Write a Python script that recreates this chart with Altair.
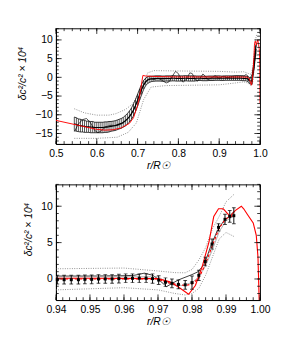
import altair as alt
import pandas as pd
import numpy as np

# ---------------- data: top panel ----------------
band_x = [round(0.545 + 0.005 * i, 3) for i in range(90)]
band_c = [-12.4, -12.6, -12.8, -12.9, -13.0, -13.1, -13.2, -13.2, -13.3, -13.3,
          -13.4, -13.4, -13.4, -13.4, -13.4, -13.3, -13.3, -13.2, -13.1, -13.0,
          -12.9, -12.7, -12.5, -12.3, -12.0, -11.6, -11.1, -10.5, -9.7, -8.7,
          -7.5, -6.1, -4.6, -3.2, -2.0, -1.2, -0.7, -0.5, -0.4, -0.35,
          -0.3, -0.3, -0.3, -0.35, -0.35, -0.3, -0.3, -0.3, -0.25, -0.25,
          -0.3, -0.3, -0.3, -0.3, -0.25, -0.25, -0.3, -0.3, -0.3, -0.3,
          -0.25, -0.25, -0.25, -0.3, -0.3, -0.3, -0.25, -0.25, -0.25, -0.2,
          -0.2, -0.2, -0.25, -0.25, -0.2, -0.2, -0.2, -0.2, -0.2, -0.2,
          -0.2, -0.2, -0.25, -0.3, -0.3, -0.4, -0.9, -1.0, 3.0, 7.6]
band_e = [1.8, 1.8, 1.7, 1.7, 1.6, 1.6, 1.5, 1.5, 1.5, 1.5,
          1.4, 1.4, 1.4, 1.4, 1.4, 1.4, 1.4, 1.4, 1.3, 1.3,
          1.3, 1.3, 1.3, 1.3, 1.3, 1.4, 1.4, 1.5, 1.5, 1.6,
          1.6, 1.6, 1.5, 1.4, 1.2, 1.0, 0.9, 0.8, 0.7, 0.7,
          0.7, 0.7, 0.7, 0.7, 0.7, 0.7, 0.7, 0.7, 0.7, 0.7,
          0.7, 0.7, 0.7, 0.7, 0.7, 0.7, 0.7, 0.7, 0.7, 0.7,
          0.6, 0.6, 0.6, 0.6, 0.6, 0.6, 0.6, 0.6, 0.6, 0.6,
          0.6, 0.6, 0.6, 0.6, 0.6, 0.6, 0.6, 0.6, 0.6, 0.6,
          0.6, 0.6, 0.6, 0.6, 0.6, 0.7, 0.8, 0.9, 1.0, 1.0]

# wiggly inversion curve (black solid)
wig_x = [0.545, 0.555, 0.565, 0.575, 0.585, 0.595, 0.603, 0.612, 0.622, 0.635,
         0.65, 0.665, 0.68, 0.69, 0.70, 0.71, 0.72, 0.73, 0.74, 0.75,
         0.76, 0.77, 0.777, 0.785, 0.793, 0.80, 0.806, 0.812, 0.82, 0.828,
         0.834, 0.84, 0.846, 0.853, 0.86, 0.866, 0.872, 0.88, 0.89, 0.90,
         0.91, 0.92, 0.93, 0.94, 0.95, 0.96, 0.963, 0.966, 0.9685, 0.970,
         0.9725, 0.976, 0.980, 0.9818, 0.9837, 0.9855, 0.9874, 0.9892, 0.9909, 0.9922]
wig_y = [-14.5, -12.5, -11.3, -11.0, -12.2, -14.2, -14.8, -14.2, -13.2, -12.8,
         -12.9, -12.2, -10.6, -8.8, -6.2, -3.2, -1.0, -0.2, -0.6, -0.2,
         -0.8, -1.5, -1.2, 0.3, 1.6, 1.0, -0.6, -1.3, -0.4, 1.2,
         1.0, -0.4, -1.1, -0.3, 0.9, 0.3, -0.6, -0.2, 0.4, -0.3,
         0.3, -0.1, 0.2, 0.4, 0.4, 0.45, 0.5, 0.8, 0.5, 0.0,
         -1.05, -0.13, 0.6, 1.0, 2.1, 4.5, 6.6, 7.9, 8.6, 9.2]

# solar model difference (red solid)
red_x = [0.5, 0.55, 0.6, 0.62, 0.64, 0.66, 0.68, 0.69, 0.70, 0.705,
         0.71, 0.713, 0.72, 0.75, 0.8, 0.9, 0.95, 0.97, 0.9735, 0.976,
         0.979, 0.981, 0.983, 0.985, 0.9864, 0.9878, 0.9892, 0.9912, 0.9927, 0.9945,
         0.9952, 0.9964, 0.998, 0.9989, 0.9994, 1.0]
red_y = [-11.5, -12.7, -13.9, -14.1, -14.0, -13.5, -12.3, -10.8, -7.5, -5.0,
         -1.5, 0.5, 0.35, 0.2, 0.1, 0.1, 0.1, 0.05, -0.4, -1.1,
         -2.1, -0.9, 1.7, 5.1, 8.6, 9.65, 9.65, 8.6, 9.4, 10.0,
         9.65, 8.8, 7.7, 6.0, 3.0, -7.0]

# uncertainty envelope (gray dotted)
up_x = [0.545, 0.57, 0.60, 0.63, 0.647, 0.67, 0.687, 0.70, 0.71, 0.725,
        0.74, 0.80, 0.90, 0.94, 0.96, 0.97, 0.975, 0.978, 0.980, 0.982,
        0.984, 0.986, 0.988, 0.990, 0.9925]
up_y = [-8.4, -9.5, -10.1, -10.1, -9.7, -8.6, -7.2, -4.8, -2.6, 1.2,
        1.8, 1.7, 1.6, 1.4, 1.5, 1.1, 0.87, 0.85, 1.3, 2.6,
        4.3, 6.9, 8.6, 10.6, 11.7]
lo_x = [0.545, 0.60, 0.65, 0.677, 0.697, 0.715, 0.733, 0.77, 0.90, 0.94,
        0.96, 0.97, 0.975, 0.978, 0.980, 0.982, 0.984, 0.986, 0.988, 0.990,
        0.9925]
lo_y = [-16.3, -16.3, -16.0, -14.7, -12.2, -5.9, -2.6, -2.2, -2.0, -1.5,
        -1.2, -1.5, -2.0, -2.2, -2.0, -1.3, 0.5, 3.0, 5.5, 6.4,
        5.8]

# ---------------- data: bottom panel ----------------
pt_x = [0.9404, 0.9424, 0.9445, 0.9466, 0.9485, 0.9505, 0.9525, 0.9545, 0.9565, 0.9585,
        0.9605, 0.9625, 0.9645, 0.9665, 0.9684, 0.9702, 0.9722, 0.9741, 0.9760, 0.9780,
        0.9800, 0.9820, 0.9839, 0.9859, 0.9878, 0.9897, 0.9911, 0.9923]
pt_y = [-0.1, -0.1, -0.1, -0.1, -0.05, -0.05, 0.0, 0.0, 0.0, 0.05,
        0.1, 0.1, 0.1, 0.1, 0.05, -0.15, -0.45, -0.6, -0.75, -0.8,
        -0.5, 0.5, 2.4, 4.8, 7.1, 8.2, 8.6, 8.7]
pt_e = [0.6, 0.6, 0.6, 0.6, 0.6, 0.6, 0.6, 0.6, 0.6, 0.6,
        0.6, 0.6, 0.6, 0.6, 0.65, 0.6, 0.6, 0.6, 0.6, 0.6,
        0.9, 0.7, 0.6, 0.7, 0.5, 0.7, 0.8, 1.1]

dash_x = [0.94, 0.97, 0.972, 0.975, 0.978, 0.980, 0.982, 0.984, 0.986, 0.988, 0.990, 0.9925]
dash_y = [0.0, 0.0, -0.4, -0.7, -0.9, -0.7, 0.1, 2.1, 4.6, 7.0, 8.3, 8.8]

gray_x = [0.94, 0.97, 0.974, 0.977, 0.980, 0.982, 0.984, 0.986, 0.988, 0.990, 0.9922]
gray_y = [0.3, 0.3, -0.8, -0.9, -0.5, 0.3, 1.8, 4.0, 6.5, 8.0, 8.6]

# ticks
top_xmaj = [0.5, 0.6, 0.7, 0.8, 0.9, 1.0]
top_xmin = [round(0.5 + 0.02 * i, 2) for i in range(26)]
top_ymaj = [-15, -10, -5, 0, 5, 10]
top_ymin = list(range(-17, 14))
bot_xmaj = [0.94, 0.95, 0.96, 0.97, 0.98, 0.99, 1.0]
bot_xmin = [round(0.94 + 0.002 * i, 3) for i in range(31)]
bot_ymaj = [0, 5, 10]
bot_ymin = list(range(-2, 14))

W, H = 217, 123
FONT = "Liberation Sans"
YTITLE = "δc²/c²  ×  10⁴"
XTITLE = "r/R☉"


def panel(xdom, ydom, xmaj, xmin, ymaj, ymin, top):
    xs = alt.Scale(domain=xdom, nice=False, zero=False)
    ys = alt.Scale(domain=ydom, nice=False, zero=False)
    common = dict(ticks=False, grid=False, labelPadding=4, labelOverlap=False,
                  labelFlush=False, domainColor="black", labelFont=FONT,
                  labelFontSize=11, titleFont=FONT, titleFontSize=11,
                  titleFontWeight="normal", labelColor="black", titleColor="black",
                  titleFontStyle="italic")
    xax = alt.Axis(values=xmaj, title=XTITLE, titlePadding=2,
                   format=".1f" if top else ".2f", **common)
    yax = alt.Axis(values=ymaj, title=YTITLE, titlePadding=8,
                   titleY=H / 2 - 14, **common)

    Xn = lambda f: alt.X(f, type="quantitative", scale=xs, axis=xax)
    Yn = lambda f: alt.Y(f, type="quantitative", scale=ys, axis=yax)

    layers = []
    upd = pd.DataFrame({"x": up_x, "y": up_y})
    lod = pd.DataFrame({"x": lo_x, "y": lo_y})
    layers.append(alt.Chart(upd).mark_line(color="#888888", strokeDash=[1, 1.5], strokeWidth=1, clip=True)
                  .encode(x=Xn("x"), y=Yn("y")))
    layers.append(alt.Chart(lod).mark_line(color="#888888", strokeDash=[1, 1.5], strokeWidth=1, clip=True)
                  .encode(x=Xn("x"), y=Yn("y")))
    if top:
        bd = pd.DataFrame({"x": band_x, "c": band_c, "e": band_e})
        bd["lo"] = bd["c"] - bd["e"]
        bd["hi"] = bd["c"] + bd["e"]
        layers.append(alt.Chart(bd).mark_rule(color="black", strokeWidth=0.7, clip=True)
                      .encode(x=Xn("x"), y=Yn("lo"), y2="hi"))
        layers.append(alt.Chart(bd).mark_line(color="black", strokeWidth=0.8, clip=True)
                      .encode(x=Xn("x"), y=Yn("lo")))
        layers.append(alt.Chart(bd).mark_line(color="black", strokeWidth=0.8, clip=True)
                      .encode(x=Xn("x"), y=Yn("hi")))
        layers.append(alt.Chart(bd).mark_line(color="black", strokeWidth=1.2, clip=True)
                      .encode(x=Xn("x"), y=Yn("c")))
        wd = pd.DataFrame({"x": wig_x, "y": wig_y})
        layers.append(alt.Chart(wd).mark_line(color="black", strokeWidth=0.7, clip=True)
                      .encode(x=Xn("x"), y=Yn("y")))
        rd = pd.DataFrame({"x": red_x, "y": red_y})
        layers.append(alt.Chart(rd).mark_line(color="red", strokeWidth=1, clip=True)
                      .encode(x=Xn("x"), y=Yn("y")))
    else:
        wd = pd.DataFrame({"x": wig_x, "y": wig_y})
        wd = wd[wd.x >= 0.938]
        layers.append(alt.Chart(wd).mark_line(color="black", strokeWidth=0.8, clip=True)
                      .encode(x=Xn("x"), y=Yn("y")))
        gd = pd.DataFrame({"x": gray_x, "y": gray_y})
        layers.append(alt.Chart(gd).mark_line(color="#999999", strokeWidth=0.8, clip=True)
                      .encode(x=Xn("x"), y=Yn("y")))
        rd = pd.DataFrame({"x": red_x, "y": red_y})
        rd = rd[rd.x >= 0.9]
        layers.append(alt.Chart(rd).mark_line(color="red", strokeWidth=1.2, clip=True)
                      .encode(x=Xn("x"), y=Yn("y")))
        dd = pd.DataFrame({"x": dash_x, "y": dash_y})
        layers.append(alt.Chart(dd).mark_line(color="red", strokeWidth=1.2, strokeDash=[3, 2], clip=True)
                      .encode(x=Xn("x"), y=Yn("y")))
        pd_ = pd.DataFrame({"x": pt_x, "y": pt_y, "e": pt_e})
        pd_["lo"] = pd_["y"] - pd_["e"]
        pd_["hi"] = pd_["y"] + pd_["e"]
        layers.append(alt.Chart(pd_).mark_rule(color="black", strokeWidth=1, clip=True)
                      .encode(x=Xn("x"), y=Yn("lo"), y2="hi"))
        layers.append(alt.Chart(pd_).mark_tick(color="black", orient="horizontal", size=4, thickness=1, clip=True)
                      .encode(x=Xn("x"), y=Yn("lo")))
        layers.append(alt.Chart(pd_).mark_tick(color="black", orient="horizontal", size=4, thickness=1, clip=True)
                      .encode(x=Xn("x"), y=Yn("hi")))
        layers.append(alt.Chart(pd_).mark_point(color="black", filled=True, size=10, opacity=1, shape="square")
                      .encode(x=Xn("x"), y=Yn("y")))

    # inside ticks on all four sides
    def tk(vals, ln, axis):
        d = pd.DataFrame({"v": vals})
        out = []
        if axis == "x":
            out.append(alt.Chart(d).mark_rule(color="black", strokeWidth=0.8)
                       .encode(x=Xn("v"), y=alt.value(H), y2=alt.value(H - ln)))
            out.append(alt.Chart(d).mark_rule(color="black", strokeWidth=0.8)
                       .encode(x=Xn("v"), y=alt.value(0), y2=alt.value(ln)))
        else:
            out.append(alt.Chart(d).mark_rule(color="black", strokeWidth=0.8)
                       .encode(y=Yn("v"), x=alt.value(0), x2=alt.value(ln)))
            out.append(alt.Chart(d).mark_rule(color="black", strokeWidth=0.8)
                       .encode(y=Yn("v"), x=alt.value(W), x2=alt.value(W - ln)))
        return out

    layers += tk(xmaj, 6, "x") + tk(xmin, 3, "x") + tk(ymaj, 6, "y") + tk(ymin, 3, "y")
    return alt.layer(*layers).properties(width=W, height=H)


top = panel([0.5, 1.0], [-17.8, 13.1], top_xmaj, top_xmin, top_ymaj, top_ymin, True)
bot = panel([0.94, 1.0], [-2.9, 13.0], bot_xmaj, bot_xmin, bot_ymaj, bot_ymin, False)

chart = alt.vconcat(top, bot, spacing=13).properties(
    padding={"left": 8, "top": 10, "right": 5, "bottom": 5}
).configure_view(stroke="black", strokeWidth=1).configure_axis(domainWidth=1)

chart.save("out.html", embed_options={"renderer": "svg", "actions": False})
